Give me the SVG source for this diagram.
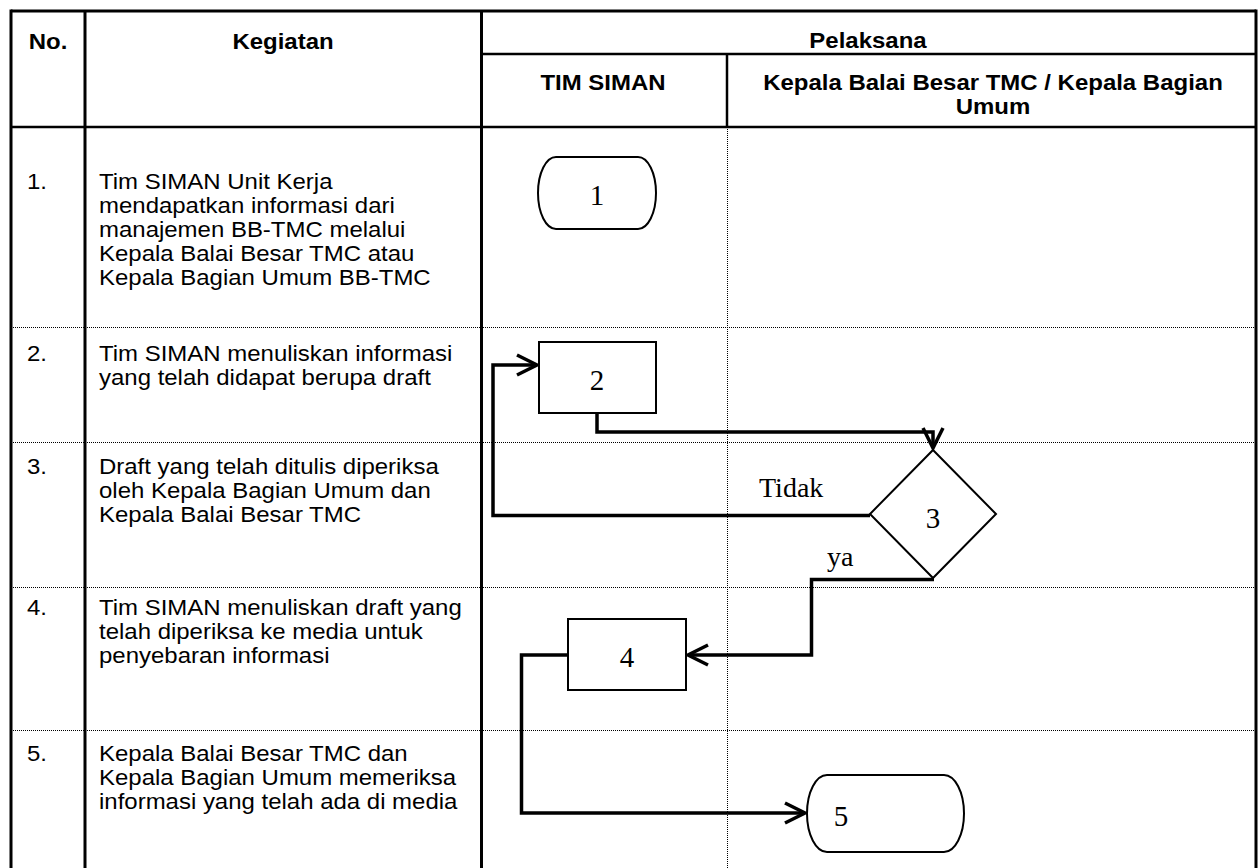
<svg xmlns="http://www.w3.org/2000/svg" width="1258" height="868" viewBox="0 0 1258 868">
  <defs>
    <style>
      .grid { stroke:#000; stroke-width:3; fill:none; }
      .hline { stroke:#000; stroke-width:2.5; fill:none; }
      .dot { stroke:#000; stroke-width:1; stroke-dasharray:1 1; fill:none; }
      .node { fill:#fff; stroke:#000; stroke-width:2; }
      .conn { fill:none; stroke:#000; stroke-width:3.5; stroke-linejoin:miter; }
      .sans { font-family:"Liberation Sans", Arial, sans-serif; font-size:22px; fill:#000; }
      .bold { font-weight:bold; }
      .serif { font-family:"Liberation Serif", "Times New Roman", serif; font-size:29px; fill:#000; }
      .lbl { font-family:"Liberation Serif", "Times New Roman", serif; font-size:28px; fill:#000; }
    </style>
    <marker id="arrow" markerUnits="userSpaceOnUse" viewBox="-24 -14 28 28" refX="0" refY="0" markerWidth="28" markerHeight="28" orient="auto">
      <path d="M-20,-10 L0,0 L-20,10" fill="none" stroke="#000" stroke-width="3.5"/>
    </marker>
  </defs>
  <rect x="0" y="0" width="1258" height="868" fill="#fff"/>

  <g id="table">
    <line class="dot" x1="11" y1="327.5" x2="1256" y2="327.5"/>
    <line class="dot" x1="11" y1="442.5" x2="1256" y2="442.5"/>
    <line class="dot" x1="11" y1="587.5" x2="1256" y2="587.5"/>
    <line class="dot" x1="11" y1="730.5" x2="1256" y2="730.5"/>
    <line class="dot" x1="727.5" y1="127" x2="727.5" y2="868"/>
    <line class="grid" x1="11" y1="11" x2="1256" y2="11"/>
    <line class="hline" x1="481" y1="54" x2="1256" y2="54"/>
    <line class="hline" x1="11" y1="127" x2="1256" y2="127"/>
    <line class="hline" x1="727" y1="54" x2="727" y2="127"/>
    <line class="grid" x1="11" y1="9.5" x2="11" y2="868"/>
    <line class="grid" x1="85" y1="11" x2="85" y2="868"/>
    <line class="grid" x1="481.5" y1="11" x2="481.5" y2="868"/>
    <line class="grid" x1="1256" y1="9.5" x2="1256" y2="868"/>
  </g>

  <g id="header" class="sans bold" text-anchor="middle">
    <text transform="translate(48,49) scale(1.09,1)">No.</text>
    <text transform="translate(283,49) scale(1.09,1)">Kegiatan</text>
    <text transform="translate(868,48) scale(1.09,1)">Pelaksana</text>
    <text transform="translate(603,90) scale(1.09,1)">TIM SIMAN</text>
    <text transform="translate(993,90) scale(1.09,1)"><tspan x="0" y="0">Kepala Balai Besar TMC / Kepala Bagian</tspan><tspan x="0" y="24">Umum</tspan></text>
  </g>

  <g id="rows" class="sans">
    <text transform="translate(27,189) scale(1.09,1)">1.</text>
    <text transform="translate(99,189) scale(1.09,1)"><tspan x="0" y="0">Tim SIMAN Unit Kerja</tspan><tspan x="0" y="24">mendapatkan informasi dari</tspan><tspan x="0" y="48">manajemen BB-TMC melalui</tspan><tspan x="0" y="72">Kepala Balai Besar TMC atau</tspan><tspan x="0" y="96">Kepala Bagian Umum BB-TMC</tspan></text>
    <text transform="translate(27,361) scale(1.09,1)">2.</text>
    <text transform="translate(99,361) scale(1.09,1)"><tspan x="0" y="0">Tim SIMAN menuliskan informasi</tspan><tspan x="0" y="24">yang telah didapat berupa draft</tspan></text>
    <text transform="translate(27,474) scale(1.09,1)">3.</text>
    <text transform="translate(99,474) scale(1.09,1)"><tspan x="0" y="0">Draft yang telah ditulis diperiksa</tspan><tspan x="0" y="24">oleh Kepala Bagian Umum dan</tspan><tspan x="0" y="48">Kepala Balai Besar TMC</tspan></text>
    <text transform="translate(27,615) scale(1.09,1)">4.</text>
    <text transform="translate(99,615) scale(1.09,1)"><tspan x="0" y="0">Tim SIMAN menuliskan draft yang</tspan><tspan x="0" y="24">telah diperiksa ke media untuk</tspan><tspan x="0" y="48">penyebaran informasi</tspan></text>
    <text transform="translate(27,761) scale(1.09,1)">5.</text>
    <text transform="translate(99,761) scale(1.09,1)"><tspan x="0" y="0">Kepala Balai Besar TMC dan</tspan><tspan x="0" y="24">Kepala Bagian Umum memeriksa</tspan><tspan x="0" y="48">informasi yang telah ada di media</tspan></text>
  </g>

  <g id="connectors">
    <path class="conn" d="M597,413 V432 H933 V448" marker-end="url(#arrow)"/>
    <path class="conn" d="M870,515.5 H493 V365 H537" marker-end="url(#arrow)"/>
    <path class="conn" d="M934,579.5 H811.5 V655 H688" marker-end="url(#arrow)"/>
    <path class="conn" d="M568,655 H521.5 V813 H805" marker-end="url(#arrow)"/>
    <text class="lbl" x="759" y="497">Tidak</text>
    <text class="lbl" x="827" y="566">ya</text>
  </g>

  <g id="node1">
    <path class="node" d="M556,157 H638 A18,36 0 0 1 638,229 H556 A18,36 0 0 1 556,157 Z"/>
    <text class="serif" x="597" y="205" text-anchor="middle">1</text>
  </g>
  <g id="node2">
    <rect class="node" x="539" y="342" width="117" height="71"/>
    <text class="serif" x="597" y="390" text-anchor="middle">2</text>
  </g>
  <g id="node3">
    <polygon class="node" points="933,450 996,514 933,578 870,514"/>
    <text class="serif" x="933" y="528" text-anchor="middle">3</text>
  </g>
  <g id="node4">
    <rect class="node" x="568" y="619" width="118" height="71"/>
    <text class="serif" x="627" y="667" text-anchor="middle">4</text>
  </g>
  <g id="node5">
    <path class="node" d="M827,775 H944 A20,38.5 0 0 1 944,852 H827 A20,38.5 0 0 1 827,775 Z"/>
    <text class="serif" x="841" y="826" text-anchor="middle">5</text>
  </g>
</svg>
